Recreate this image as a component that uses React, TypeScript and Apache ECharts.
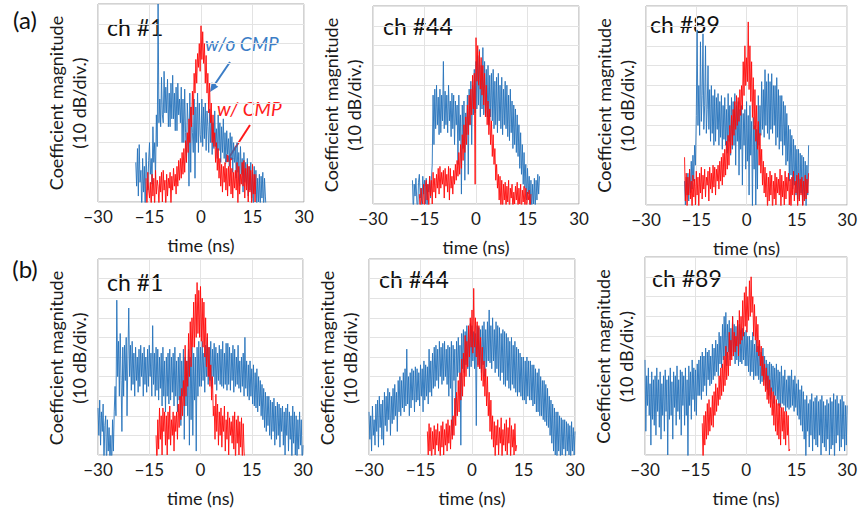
import React, { useEffect, useRef } from 'react';
import * as echarts from 'echarts';

// ---------- data (time in ns, magnitude in dB, 10 dB per division) ----------
const STEP = 0.25;
const xMin = -30;
const xMax = 30;
const xInterval = 15;
const yMin = 0;
const yMax = 100;
const yInterval = 10;

const titles = ['ch #1', 'ch #44', 'ch #89', 'ch #1', 'ch #44', 'ch #89'];
const rowLabels = ['(a)', '(b)'];
const yName1 = 'Coefficient magnitude';
const yName2 = '(10 dB/div.)';
const xName = 'time (ns)';
const annBlue = 'w/o CMP';
const annRed = 'w/ CMP';

// (a) ch #1
const a1BlueStart = -19;
const a1Blue = [
  20, 8, 27, 3, 29, 10, 16, -5, 22, 5, 18, -5, 25, 12, 6, 21, 30, 14, 22, 9,
  38, 20, 30, 12, 44, 28, 100, 40, 52, 38, 63, 44, 40, 66, 45, 58, 45, 62, 38, 55,
  38, 60, 42, 64, 42, 55, 36, 58, 36, 60, 44, 52, 40, 58, 30, 52, 30, 57, 35, 20,
  50, 40, 8, 55, 15, 48, 35, 25, 52, 12, 48, 30, 55, 25, 50, 34, 30, 52, 28, 48,
  32, 50, 26, 46, 38, 25, 47, 30, 44, 24, 40, 27, 46, 28, 37, 22, 44, 26, 40, 20,
  38, 25, 42, 22, 35, 20, 36, 24, 32, 18, 35, 22, 33, 15, 30, 20, 28, 12, 30, 15,
  25, 8, 28, 14, 22, 5, 25, 10, 20, 8, 22, 3, 18, 6, 20, 2, 15, -5, 18, 4,
  16, -3, 12, 0, 14, -5, 13, 2, 15, -5, 12, 3, -5];
const a1RedStart = -16;
const a1Red = [
  12, -5, 15, 6, 2, 10, -5, 14, 3, 12, -3, 16, 4, 11, 8, -2, 13, 5, 15, 0,
  16, 6, 11, -4, 14, 3, 12, 7, 15, -2, 13, 6, 17, 8, 14, 4, 18, 8, 21, 11,
  22, 12, 25, 14, 27, 15, 31, 20, 35, 25, 42, 30, 48, 38, 56, 44, 65, 55, 72, 60,
  75, 68, 80, 66, 89, 72, 86, 70, 80, 60, 74, 55, 65, 45, 60, 40, 50, 30, 44, 28,
  35, 20, 30, 16, 27, 12, 22, 8, 19, 5, 18, 10, 20, 6, 17, 3, 18, 8, 21, 4,
  17, 2, 15, 7, 16, 6, 20, -2, 18, 4, 14, 9, 20, 8, 21, 2, 17, 6, 19, 0,
  18, 5, 16, -3, 19, 4, 14, 0, 14];

// (a) ch #44
const a44BlueStart = -18.5;
const a44Blue = [
  12, -5, 10, 4, 13, 2, -5, 11, 15, 3, 8, -3, 14, 5, 12, 0, 13, -4, 10, 6,
  14, 3, 12, 20, 55, 30, 58, 38, 60, 40, 54, 35, 58, 36, 55, 42, 72, 38, 57, 40,
  55, 36, 60, 42, 52, 34, 56, 38, 55, 30, 52, 40, 50, 20, 55, 32, 45, 5, 50, 28,
  52, 12, 46, 35, 55, 15, 58, 40, 62, 30, 60, 45, 68, 46, 72, 48, 75, 50, 78, 44,
  70, 48, 79, 45, 72, 46, 68, 44, 70, 40, 65, 44, 66, 42, 68, 38, 62, 40, 64, 36,
  66, 42, 60, 38, 64, 35, 58, 40, 62, 38, 60, 34, 55, 32, 58, 36, 52, 28, 50, 30,
  48, 26, 45, 24, 40, 18, 36, 15, 30, 10, 26, 8, 20, 2, 18, 5, 14, -3, 12, -5,
  10, 0, 13, -4, 12, 2, 15, 5, 14];
const a44RedStart = -16.5;
const a44Red = [
  5, -5, 8, 2, 0, 10, -5, 9, 12, 2, 10, -3, 14, 4, 12, 0, 16, 6, 13, 3,
  15, 8, 18, 5, 19, 8, 16, 10, 17, 3, 18, 9, 15, 6, 19, 2, 18, 8, 14, 5,
  17, 10, 20, 12, 22, 14, 26, 15, 30, 18, 35, 22, 40, 26, 44, 30, 50, 35, 55, 40,
  58, 45, 65, 48, 66, 10, 84, 62, 80, 60, 77, 58, 74, 55, 70, 50, 66, 44, 60, 40,
  52, 35, 48, 30, 42, 24, 35, 20, 28, 12, 20, 8, 15, 2, 14, -3, 12, -5, 10, 2,
  11, -3, 9, 1, 12, -5, 8, 3, 10, -5, 6, 0, 9, 2, 11, -4, 8, 0, 10, -5,
  7, 1, 9, -3, 8, -5, 6, 2, 7, -4, 5];

// (a) ch #89
const a89BlueStart = -18.5;
const a89Blue = [
  12, 0, 14, 5, 16, 2, 18, 6, 22, 8, 25, 12, 30, 20, 45, 88, 40, 60, 35, 82,
  42, 55, 86, 38, 50, 80, 36, 48, 70, 38, 58, 32, 60, 36, 55, 30, 58, 32, 54, 38,
  56, 30, 52, 34, 55, 28, 50, 33, 54, 30, 48, 26, 56, 32, 50, 25, 54, 28, 52, 30,
  56, 20, 50, 32, 52, 15, 48, 28, 50, 10, 46, 30, 48, 18, 52, 22, 45, 5, 50, 25,
  42, -3, 44, 18, 40, 0, 38, 8, 55, 30, 50, 35, 62, 38, 58, 34, 68, 40, 62, 36,
  66, 33, 62, 38, 66, 36, 60, 40, 60, 30, 64, 34, 58, 28, 55, 32, 55, 25, 52, 30,
  50, 20, 46, 22, 40, 12, 38, 15, 35, 8, 33, 10, 30, 5, 28, 3, 28, 2, 26, 6,
  25, 0, 24, 4, 22, -2, 20, 5, 30];
const a89RedStart = -18.5;
const a89Red = [
  24, 2, 16, -3, 14, 5, 18, 3, 12, -5, 15, 4, 13, 0, 17, 5, 14, -2, 16, 6,
  19, 3, 15, 8, 18, 4, 14, 10, 17, 2, 19, 8, 16, 6, 20, 9, 19, 5, 18, 12,
  20, 8, 22, 12, 24, 10, 26, 14, 28, 15, 32, 18, 35, 20, 40, 26, 45, 30, 48, 35,
  52, 38, 55, 40, 54, 42, 58, 45, 60, 48, 72, 55, 80, 60, 74, 62, 92, 58, 80, 52,
  72, 44, 64, 38, 58, 32, 50, 28, 42, 20, 36, 16, 28, 10, 22, 6, 19, 4, 16, -3,
  14, 2, 17, 5, 15, -5, 12, 3, 16, 0, 14, 6, 13, 5, 18, -2, 15, 4, 12, 0,
  17, 3, 14, 7, 16, 0, 13, -4, 14, 5, 17, 2, 12, 6, 15, -3, 16, 2, 13, 5,
  14, -4, 12, 2, 15, 3, 13, 6, 16];

// (b) ch #1
const b1BlueStart = -30;
const b1Blue = [
  24, 10, 28, 5, 22, 12, 26, -5, 15, 20, -8, 18, 2, 14, -5, 10, -8, 18, 2, 22,
  35, 20, 79, 40, 58, 30, 62, 38, 12, 55, 30, 56, 38, 60, 20, 50, 75, 40, 56, 33,
  58, 36, 52, 30, 55, 38, 50, 32, 54, 35, 56, 40, 52, 30, 55, 36, 50, 32, 54, 35,
  56, 40, 52, 30, 66, 36, 52, 30, 55, 33, 54, 28, 50, 34, 52, 25, 55, 30, 48, 22,
  50, 30, 52, 26, 54, 28, 50, 32, 52, 25, 55, 30, 48, 22, 50, 28, 52, 15, 48, 30,
  54, 8, 50, 25, 48, 20, 54, 5, 50, 18, 55, 10, 52, 28, 50, 2, 55, 30, 58, 35,
  55, 35, 58, 38, 52, 32, 56, 40, 60, 36, 55, 38, 58, 34, 54, 40, 57, 36, 55, 33,
  52, 38, 56, 36, 54, 35, 58, 34, 52, 36, 57, 33, 57, 36, 55, 33, 52, 38, 56, 32,
  54, 35, 50, 36, 56, 34, 48, 32, 50, 35, 52, 30, 60, 34, 48, 30, 46, 28, 48, 30,
  44, 26, 46, 25, 42, 24, 44, 22, 40, 25, 38, 20, 36, 18, 34, 14, 32, 12, 30, 15,
  30, 10, 28, 8, 27, 12, 29, 5, 25, 8, 27, 10, 26, 4, 24, 12, 25, 5, 22, 0,
  24, 10, 26, 2, 22, 8, 20, -5, 25, 6, 22, 0, 20, -5, 18, 3, 22, 5, 18, -5,
  5];
const b1RedStart = -13;
const b1Red = [
  10, -5, 18, 3, 24, 8, 20, 0, 24, 12, 22, 5, 20, 0, 22, 8, 25, 5, 18, 10,
  22, 2, 20, 12, 22, 8, 26, 14, 30, 18, 34, 20, 38, 25, 56, 30, 48, 35, 62, 40,
  68, 45, 70, 55, 78, 55, 82, 60, 88, 62, 84, 60, 86, 58, 80, 55, 78, 50, 70, 45,
  62, 40, 55, 35, 46, 28, 40, 20, 25, 8, 31, 12, 26, 5, 22, 10, 24, 4, 20, 12,
  25, 2, 18, 8, 22, 0, 19, 10, 17, 6, 20, 3, 22, -5, 18, 6, 20, 0, 17, 4,
  19, -5, 16, 2, -5];

// (b) ch #44
const b44BlueStart = -30;
const b44Blue = [
  22, 8, 20, 2, 25, 10, 18, 5, 26, 12, 28, 4, 30, 14, 26, 8, 28, 5, 32, 15,
  30, 12, 34, 18, 32, 10, 30, 16, 34, 18, 36, 20, 32, 12, 38, 22, 40, 20, 38, 24,
  42, 22, 44, 25, 54, 26, 40, 20, 42, 24, 44, 28, 43, 22, 45, 27, 44, 28, 42, 25,
  46, 30, 44, 22, 48, 28, 46, 30, 45, 26, 54, 32, 48, 30, 52, 34, 55, 35, 56, 38,
  54, 34, 58, 40, 55, 36, 57, 38, 58, 40, 54, 36, 56, 30, 55, 34, 58, 10, 56, 38,
  54, 20, 58, 40, 60, 42, 56, 5, 62, 44, 64, 42, 63, 46, 66, 44, 64, 40, 67, 45,
  66, 48, 63, 44, 62, 15, 66, 46, 65, 44, 64, 42, 66, 46, 68, 40, 64, 45, 68, 48,
  74, 47, 66, 44, 70, 48, 64, 42, 68, 44, 66, 40, 65, 38, 62, 42, 64, 36, 63, 35,
  62, 38, 60, 34, 58, 33, 60, 36, 56, 34, 58, 32, 55, 30, 54, 32, 52, 30, 50, 28,
  50, 28, 48, 26, 50, 30, 48, 28, 48, 28, 46, 25, 46, 26, 44, 22, 42, 22, 44, 20,
  40, 20, 38, 18, 38, 17, 36, 15, 34, 14, 30, 10, 28, 6, 26, 2, 24, 0, 22, -3,
  22, 2, 20, -4, 19, 0, 18, 3, 18, -3, 17, 2, 16, 0, 15, -5, 17, 2, 14, 0,
  12];
const b44RedStart = -13;
const b44Red = [
  12, 0, 16, 2, 14, -5, 12, 3, 15, 0, 13, 5, 16, 2, 12, -3, 15, 4, 17, 0,
  13, 5, 16, 2, 18, 6, 15, 3, 18, 8, 20, 10, 29, 15, 32, 20, 38, 22, 42, 28,
  49, 30, 52, 35, 61, 40, 58, 45, 66, 50, 70, 55, 74, 52, 85, 55, 70, 50, 68, 45,
  66, 44, 60, 38, 55, 35, 48, 30, 44, 25, 40, 20, 32, 12, 28, 8, 20, 4, 17, -2,
  15, 5, 18, 0, 14, 6, 19, -3, 13, 5, 16, 2, 18, 0, 14, 6, 19, -3, 15, 4,
  13, 0, 16, 2, 5];

// (b) ch #89
const b89BlueStart = -30;
const b89Blue = [
  48, 12, 40, 25, 44, 20, 36, 5, 42, 18, 38, 15, 40, 10, 44, 22, 38, 14, 42, 8,
  36, 20, 40, 12, 43, 22, 38, 0, 40, 18, 44, 20, 37, 8, 42, 24, 40, 15, 45, 22,
  38, 18, 43, 10, 42, 25, 40, 15, 44, 20, 38, -2, 45, 25, 42, 18, 48, 28, 44, 22,
  43, 20, 46, 30, 48, 30, 50, 28, 52, 32, 50, 35, 54, 30, 52, 38, 53, 35, 50, 36,
  56, 38, 54, 40, 58, 42, 56, 40, 62, 46, 60, 44, 66, 48, 70, 50, 72, 45, 66, 52,
  68, 48, 64, 50, 70, 52, 66, 46, 65, 48, 68, 45, 66, 47, 63, 46, 64, 48, 62, 45,
  63, 45, 60, 42, 60, 40, 58, 42, 62, 38, 56, 40, 58, 40, 55, 38, 56, 36, 52, 37,
  54, 38, 50, 35, 48, 33, 46, 30, 47, 28, 46, 32, 45, 26, 44, 30, 46, 28, 43, 25,
  42, 24, 45, 26, 40, 25, 43, 22, 38, 24, 40, 23, 40, 24, 43, 25, 38, 22, 40, 24,
  36, 20, 38, 18, 33, 15, 35, 12, 32, 8, 28, -5, 30, 12, 26, 4, 28, 10, 31, 2,
  27, 8, 29, 5, 30, 4, 27, 10, 28, 0, 30, 6, 27, 4, 25, 2, 28, 8, 26, 0,
  29, 3, 27, 5, 31, -5, 28, 6, 30, 10, 26, 2, 28, 4, 30, 8, 27, 2, 25, 5,
  25];
const b89RedStart = -13;
const b89Red = [
  16, -5, 20, 5, 22, 8, 26, 10, 28, 12, 24, 15, 30, 14, 32, 20, 36, 22, 34, 25,
  40, 28, 44, 30, 46, 32, 50, 35, 55, 38, 52, 40, 62, 45, 58, 48, 70, 50, 62, 52,
  60, 55, 68, 50, 73, 56, 70, 58, 78, 60, 82, 65, 85, 62, 80, 68, 88, 70, 90, 72,
  80, 60, 76, 58, 70, 52, 66, 50, 58, 45, 55, 40, 50, 35, 46, 32, 44, 28, 40, 26,
  38, 24, 34, 20, 32, 15, 30, 12, 28, 10, 26, 8, 26, 5, 24, 12, 24, 8, 22, 5,
  22, 10, 20, 2, 3];

const panels = [
  { blueStart: a1BlueStart, blue: a1Blue, redStart: a1RedStart, red: a1Red },
  { blueStart: a44BlueStart, blue: a44Blue, redStart: a44RedStart, red: a44Red },
  { blueStart: a89BlueStart, blue: a89Blue, redStart: a89RedStart, red: a89Red },
  { blueStart: b1BlueStart, blue: b1Blue, redStart: b1RedStart, red: b1Red },
  { blueStart: b44BlueStart, blue: b44Blue, redStart: b44RedStart, red: b44Red },
  { blueStart: b89BlueStart, blue: b89Blue, redStart: b89RedStart, red: b89Red },
];

// ---------- layout ----------
const grids = [
  { left: 98, top: 4, width: 206, height: 198 },
  { left: 373, top: 6, width: 206, height: 198 },
  { left: 646, top: 6, width: 204, height: 199 },
  { left: 98, top: 259, width: 205, height: 198 },
  { left: 369, top: 259, width: 206, height: 198 },
  { left: 645, top: 257, width: 204, height: 199 },
];
const titleOffsets = [
  { dx: 9, dy: 23 }, { dx: 10, dy: 20 }, { dx: 4, dy: 18 },
  { dx: 9, dy: 23 }, { dx: 10, dy: 20 }, { dx: 7, dy: 21 },
];

const FONT = 'Lato, "Open Sans", "Noto Sans", sans-serif';
const BLUE = '#2673bb';
const RED = '#ff0a0a';

function toPairs(start: number, vals: number[]) {
  return vals.map((v, k) => [start + k * STEP, v]);
}

export default function App() {
  const ref = useRef<HTMLDivElement>(null);
  useEffect(() => {
    document.body.style.margin = '0';
    if (!ref.current) return;
    const chart = echarts.init(ref.current, undefined, { renderer: 'svg' });

    const gridOpts = grids.map((g) => ({
      left: g.left, top: g.top, width: g.width, height: g.height,
      show: true, borderColor: '#a6a6a6', borderWidth: 1, containLabel: false,
    }));
    const xAxes = grids.map((_, i) => ({
      type: 'value', gridIndex: i, min: xMin, max: xMax, interval: xInterval,
      name: xName, nameLocation: 'middle', nameGap: 34,
      nameTextStyle: { color: '#1a1a1a', fontSize: 18, fontFamily: FONT },
      axisLine: { show: false }, axisTick: { show: false },
      axisLabel: {
        color: '#1a1a1a', fontSize: 17, fontFamily: FONT, margin: 6,
        formatter: (v: number) => String(v).replace('-', '\u2212'),
      },
      splitLine: { show: true, lineStyle: { color: '#e3e3e3', width: 1 } },
    }));
    const yAxes = grids.map((_, i) => ({
      type: 'value', gridIndex: i, min: yMin, max: yMax, interval: yInterval,
      axisLine: { show: false }, axisTick: { show: false },
      axisLabel: { show: false },
      splitLine: { show: true, lineStyle: { color: '#e3e3e3', width: 1 } },
    }));

    const series: any[] = [];
    panels.forEach((p, i) => {
      series.push({
        type: 'line', xAxisIndex: i, yAxisIndex: i, showSymbol: false, symbol: 'none',
        data: toPairs(p.blueStart, p.blue), clip: true,
        lineStyle: { color: BLUE, width: 0.9 }, itemStyle: { color: BLUE },
      });
      series.push({
        type: 'line', xAxisIndex: i, yAxisIndex: i, showSymbol: false, symbol: 'none',
        data: toPairs(p.redStart, p.red), clip: true,
        lineStyle: { color: RED, width: 0.9 }, itemStyle: { color: RED },
      });
    });

    const graphic: any[] = [];
    grids.forEach((g, i) => {
      graphic.push({
        type: 'text', x: g.left + titleOffsets[i].dx, y: g.top + titleOffsets[i].dy,
        style: { text: titles[i], fill: '#111', font: `23px ${FONT}`, align: 'left', verticalAlign: 'middle' },
      });
      const cy = g.top + g.height / 2;
      graphic.push({
        type: 'text', x: g.left - 42, y: cy, rotation: Math.PI / 2,
        style: { text: yName1, fill: '#1a1a1a', font: `18px ${FONT}`, align: 'center', verticalAlign: 'middle' },
      });
      graphic.push({
        type: 'text', x: g.left - 19, y: cy, rotation: Math.PI / 2,
        style: { text: yName2, fill: '#1a1a1a', font: `18px ${FONT}`, align: 'center', verticalAlign: 'middle' },
      });
    });
    graphic.push({
      type: 'text', x: 25, y: 19,
      style: { text: rowLabels[0], fill: '#111', font: `24px ${FONT}`, align: 'center', verticalAlign: 'middle' },
    });
    graphic.push({
      type: 'text', x: 25, y: 268,
      style: { text: rowLabels[1], fill: '#111', font: `24px ${FONT}`, align: 'center', verticalAlign: 'middle' },
    });
    // annotations in (a) ch #1
    graphic.push({
      type: 'text', x: 205, y: 43,
      style: { text: annBlue, fill: '#3b7dc6', font: `italic 19px ${FONT}`, align: 'left', verticalAlign: 'middle' },
    });
    graphic.push({
      type: 'text', x: 217, y: 108,
      style: { text: annRed, fill: '#ff1a1a', font: `italic 19px ${FONT}`, align: 'left', verticalAlign: 'middle' },
    });
    graphic.push({
      type: 'line', shape: { x1: 230, y1: 62, x2: 213, y2: 87 },
      style: { stroke: '#3b7dc6', lineWidth: 2 },
    });
    graphic.push({
      type: 'polygon', shape: { points: [[210, 92], [218.3, 86.7], [211.7, 82.3]] },
      style: { fill: '#3b7dc6' },
    });
    graphic.push({
      type: 'line', shape: { x1: 250, y1: 125, x2: 228, y2: 159 },
      style: { stroke: '#ff1a1a', lineWidth: 2 },
    });
    graphic.push({
      type: 'polygon', shape: { points: [[225, 164], [233.7, 158.8], [226.1, 154]] },
      style: { fill: '#ff1a1a' },
    });

    chart.setOption({
      animation: false,
      backgroundColor: '#ffffff',
      grid: gridOpts,
      xAxis: xAxes,
      yAxis: yAxes,
      series,
      graphic,
    });
    return () => chart.dispose();
  }, []);
  return <div ref={ref} style={{ width: 860, height: 508 }} />;
}
